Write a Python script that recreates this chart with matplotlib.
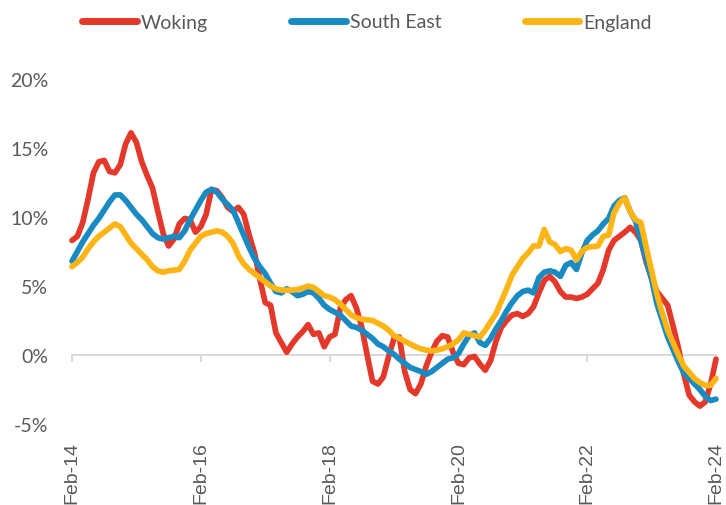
import matplotlib
matplotlib.use("Agg")
import matplotlib.pyplot as plt
import numpy as np

# Monthly annual change (%), Feb-14 .. Feb-24
woking = [8.3, 8.6, 9.6, 11.3, 13.2, 14.0, 14.1, 13.3, 13.2, 13.8,
          15.3, 16.1, 15.4, 14.0, 13.0, 12.1, 10.4, 8.8, 7.9, 8.4,
          9.5, 9.9, 9.8, 8.9, 9.3, 10.2, 12.0, 11.9, 11.4, 10.7,
          10.4, 10.7, 10.2, 8.7, 7.4, 5.5, 3.8, 3.6, 1.6, 0.9,
          0.2, 0.8, 1.3, 1.7, 2.2, 1.5, 1.6, 0.6, 1.3, 1.5,
          3.4, 4.0, 4.3, 3.4, 2.0, 0.0, -1.9, -2.1, -1.6, -0.1,
          1.2, 1.3, -1.2, -2.5, -2.8, -2.1, -0.8, 0.2, 1.0, 1.4,
          1.3, 0.2, -0.6, -0.7, -0.2, -0.1, -0.65, -1.1, -0.4, 1.0,
          2.0, 2.5, 2.9, 3.0, 2.8, 3.0, 3.5, 4.5, 5.4, 5.7,
          5.3, 4.6, 4.2, 4.2, 4.1, 4.2, 4.4, 4.8, 5.2, 6.2,
          7.6, 8.3, 8.6, 8.9, 9.25, 8.9, 8.3, 6.7, 5.6, 4.6,
          4.1, 3.6, 2.1, 0.5, -1.4, -2.9, -3.4, -3.7, -3.4, -2.1,
          -0.3]

south_east = [6.8, 7.5, 8.2, 8.8, 9.4, 9.9, 10.5, 11.1, 11.6, 11.6,
              11.2, 10.7, 10.2, 9.8, 9.3, 8.8, 8.5, 8.4, 8.5, 8.6,
              8.5, 9.0, 9.8, 10.5, 11.2, 11.8, 12.0, 11.8, 11.3, 10.9,
              10.5, 9.6, 8.7, 7.8, 7.0, 6.4, 5.9, 5.2, 4.6, 4.5,
              4.8, 4.6, 4.3, 4.4, 4.6, 4.5, 4.1, 3.6, 3.3, 3.1,
              2.9, 2.5, 2.1, 2.0, 1.8, 1.5, 1.2, 0.8, 0.6, 0.3,
              0.05, -0.3, -0.6, -0.9, -1.05, -1.2, -1.4, -1.2, -0.9, -0.6,
              -0.3, -0.2, 0.1, 0.8, 1.4, 1.6, 0.9, 0.7, 1.2, 1.9,
              2.5, 3.2, 3.8, 4.3, 4.6, 4.7, 4.5, 5.6, 6.0, 6.1,
              6.0, 5.7, 6.5, 6.7, 6.2, 7.4, 8.3, 8.7, 9.0, 9.5,
              9.9, 10.8, 11.2, 11.4, 10.4, 9.7, 8.3, 6.9, 5.5, 3.7,
              2.5, 1.3, 0.4, -0.5, -1.3, -1.7, -2.1, -2.5, -3.0, -3.3,
              -3.2]

england = [6.4, 6.7, 7.1, 7.7, 8.2, 8.6, 8.9, 9.2, 9.5, 9.3,
           8.7, 8.1, 7.7, 7.3, 6.9, 6.4, 6.1, 6.0, 6.1, 6.15,
           6.2, 6.8, 7.6, 8.1, 8.6, 8.8, 8.9, 9.0, 8.9, 8.6,
           8.1, 7.2, 6.6, 6.2, 5.9, 5.6, 5.3, 5.0, 4.8, 4.7,
           4.7, 4.7, 4.75, 4.85, 5.0, 4.9, 4.6, 4.3, 4.2, 4.0,
           3.7, 3.3, 2.9, 2.7, 2.6, 2.55, 2.5, 2.3, 2.1, 1.8,
           1.4, 1.2, 1.0, 0.8, 0.6, 0.45, 0.35, 0.3, 0.35, 0.45,
           0.6, 0.8, 1.1, 1.6, 1.5, 1.4, 1.3, 1.8, 2.4, 3.0,
           3.9, 4.8, 5.8, 6.4, 7.0, 7.4, 7.9, 7.9, 9.1, 8.2,
           8.0, 7.5, 7.7, 7.6, 6.9, 7.5, 7.8, 7.85, 7.9, 8.6,
           8.7, 10.3, 11.0, 11.4, 10.4, 9.8, 9.6, 7.8, 6.1, 4.4,
           3.0, 1.8, 0.9, 0.0, -0.8, -1.25, -1.7, -2.0, -2.2, -2.2,
           -1.7]

tick_labels = ["Feb-14", "Feb-16", "Feb-18", "Feb-20", "Feb-22", "Feb-24"]
y_ticks = [-5, 0, 5, 10, 15, 20]

series = [("Woking", woking, "#E4392A"),
          ("South East", south_east, "#1A8AC2"),
          ("England", england, "#FDB515")]

fig = plt.figure(figsize=(7.26, 5.06), dpi=100)
ax = fig.add_axes([72/726, 1-425/506, (716-72)/726, (425-80)/506])

x = np.arange(len(woking))
for name, vals, col in series:
    ax.plot(x, vals, color=col, lw=4.1, label=name, solid_capstyle="round",
            solid_joinstyle="round", clip_on=False)

ax.set_xlim(0, len(woking) - 1)
ax.set_ylim(-5, 20)
for s in ["top", "right", "left"]:
    ax.spines[s].set_visible(False)
ax.spines["bottom"].set_position(("data", 0))
ax.spines["bottom"].set_color("#D9D9D9")
ax.spines["bottom"].set_linewidth(1.5)
ax.spines["bottom"].set_zorder(0)

ax.set_xticks(np.arange(0, len(woking), 24))
ax.set_xticklabels(tick_labels, rotation=90, fontfamily="Liberation Sans",
                   fontsize=14, color="#595959")
ax.tick_params(axis="x", length=5, width=1.5, color="#D9D9D9", pad=57)

ax.set_yticks(y_ticks)
ax.set_yticklabels([f"{v}%" for v in y_ticks], fontfamily="Lato",
                   fontsize=14, color="#595959")
ax.tick_params(axis="y", length=0, pad=17)

leg = ax.legend(loc="center", bbox_to_anchor=(0.5 + 4/726, 1 - 23/506),
                bbox_transform=fig.transFigure, ncol=3, frameon=False,
                prop={"family": "Lato", "size": 14}, handlelength=2.8,
                handletextpad=0.2, columnspacing=4.3)
for t in leg.get_texts():
    t.set_color("#595959")
for h in leg.get_lines():
    h.set_linewidth(5)
    h.set_solid_capstyle("round")

fig.savefig("out.png", dpi=100)
